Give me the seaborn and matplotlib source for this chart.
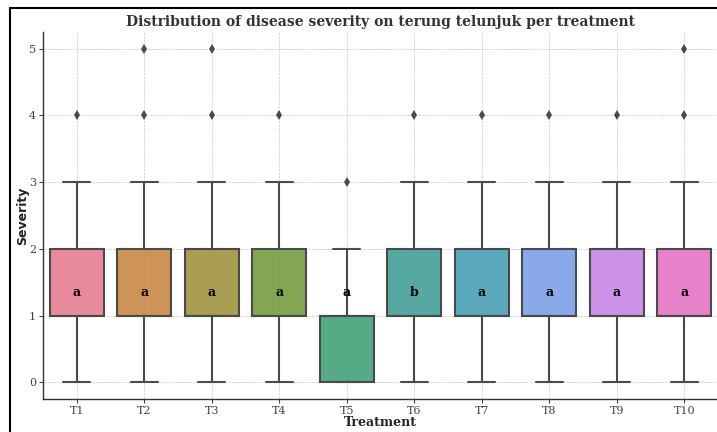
import numpy as np
import pandas as pd
import matplotlib
matplotlib.use("Agg")
import matplotlib.pyplot as plt
from matplotlib.lines import Line2D
import seaborn as sns

treatments = ["T1", "T2", "T3", "T4", "T5", "T6", "T7", "T8", "T9", "T10"]
severity_levels = [0, 1, 2, 3, 4, 5]
# number of observations at each severity level (0..5) per treatment
counts = {
    "T1":  [3, 8, 6, 2, 1, 0],
    "T2":  [3, 8, 6, 2, 1, 1],
    "T3":  [3, 8, 6, 2, 1, 1],
    "T4":  [3, 8, 6, 2, 1, 0],
    "T5":  [6, 8, 3, 1, 0, 0],
    "T6":  [3, 8, 6, 2, 1, 0],
    "T7":  [3, 8, 6, 2, 1, 0],
    "T8":  [3, 8, 6, 2, 1, 0],
    "T9":  [3, 8, 6, 2, 1, 0],
    "T10": [3, 8, 6, 2, 1, 1],
}
letters = ["a", "a", "a", "a", "a", "b", "a", "a", "a", "a"]
letter_y = 1.35

rows = []
for t in treatments:
    for lvl, c in zip(severity_levels, counts[t]):
        rows += [(t, lvl)] * c
df = pd.DataFrame(rows, columns=["Treatment", "Severity"])

sns.set_style("white")
plt.rcParams["font.family"] = ["DejaVu Serif"]

pal = sns.color_palette("husl", len(treatments), desat=0.78)

fig = plt.figure(figsize=(7.17, 4.32), dpi=100)
ax = fig.add_axes([43/717, 1 - 399/432, (718 - 43)/717, (399 - 32)/432])

line_col = "#4a4a4a"
sns.boxplot(data=df, x="Treatment", y="Severity", hue="Treatment",
            order=treatments, hue_order=treatments, palette=pal,
            saturation=1, legend=False, width=0.8, linewidth=1.5,
            linecolor=line_col, ax=ax,
            flierprops=dict(marker="d", markerfacecolor=line_col,
                            markeredgecolor=line_col, markeredgewidth=0,
                            markersize=5))

for p in ax.patches:
    fc = p.get_facecolor()
    p.set_facecolor((fc[0], fc[1], fc[2], 0.9))
    p.set_edgecolor(line_col)
    p.set_zorder(2)
for ln in ax.lines:
    ln.set_zorder(3)

for i, lab in enumerate(letters):
    ax.text(i, letter_y, lab, ha="center", va="center", fontsize=9,
            fontweight="bold", color="black", family="DejaVu Serif",
            zorder=5)

ax.set_axisbelow(True)
ax.grid(True, linestyle="--", linewidth=0.5, color="#c8c8c8")
for s in ["top", "right"]:
    ax.spines[s].set_visible(False)
for s in ["left", "bottom"]:
    ax.spines[s].set_color("#333333")
    ax.spines[s].set_linewidth(1.0)
ax.set_ylim(-0.25, 5.25)
ax.set_xlim(-0.5, 9.5)
ax.set_yticks([0, 1, 2, 3, 4, 5])
ax.tick_params(axis="both", labelsize=8, colors="#444444", length=3,
               width=0.8, direction="out", left=True, bottom=True, pad=2)

ax.set_title("Distribution of disease severity on terung telunjuk per treatment",
             fontsize=10, fontweight="bold", color="#333333",
             family="DejaVu Serif", pad=4)
ax.set_xlabel("Treatment", fontsize=9, fontweight="bold", color="#222222",
              family="DejaVu Serif", labelpad=0)
ax.set_ylabel("Severity", fontsize=9, fontweight="bold", color="#222222",
              family="DejaVu Sans", labelpad=0)

fig.add_artist(Line2D([10/717, 1.0], [1 - 8/432, 1 - 8/432],
                      transform=fig.transFigure, color="black", linewidth=1.5))
fig.add_artist(Line2D([10/717, 10/717], [0.0, 1 - 8/432],
                      transform=fig.transFigure, color="black", linewidth=1.5))

fig.savefig("out.png", dpi=100)
